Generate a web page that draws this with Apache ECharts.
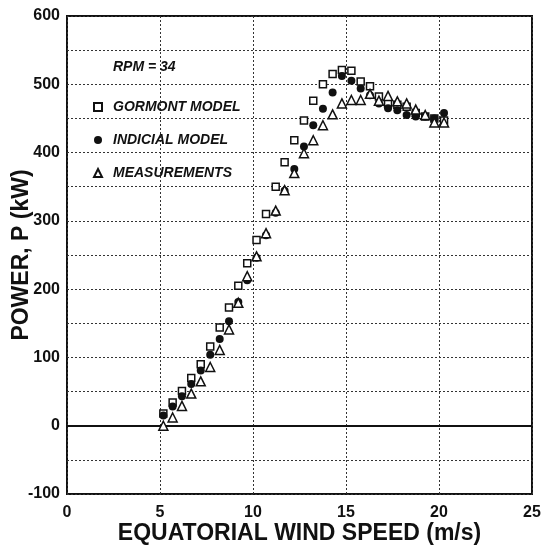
<!DOCTYPE html>
<html>
<head>
<meta charset="utf-8">
<script src="https://cdn.jsdelivr.net/npm/echarts@6/dist/echarts.min.js"></script>
<style>
html,body{margin:0;padding:0;background:#fff;}
#chart{width:542px;height:551px;}
</style>
</head>
<body>
<div id="chart"></div>
<script>
const windSpeed = [5.18,5.68,6.18,6.68,7.19,7.7,8.21,8.71,9.21,9.69,10.19,10.7,11.22,11.7,12.22,12.74,13.24,13.76,14.28,14.78,15.29,15.79,16.29,16.77,17.26,17.76,18.26,18.75,19.26,19.75,20.27];
const gormontModel = [18,34,51,70,90,116,144,173,205,238,272,310,350,386,418,447,476,500,515,521,520,504,497,482,472,470,467,458,453,450,447];
const indicialModel = [15,28,43,61,81,104,127,153,181,213,246,279,312,344,376,409,440,464,488,512,505,494,484,472,465,462,455,453,453,450,458];
const measurements = [0,12,29,47,65,86,111,141,180,219,248,282,315,345,370,399,418,440,456,472,477,477,486,476,483,475,472,463,455,444,444];
const seriesNames = ['GORMONT MODEL','INDICIAL MODEL','MEASUREMENTS'];
const annotation = 'RPM = 34';

const pairs = (ys) => windSpeed.map((x, i) => [x, ys[i]]);
const font = 'Liberation Sans, Arial, sans-serif';
const chart = echarts.init(document.getElementById('chart'), null, {renderer: 'canvas'});
const dotted = {color: '#333', width: 1, type: [2, 2]};

chart.setOption({
  backgroundColor: '#fff',
  animation: false,
  title: {
    text: annotation, left: 108, top: 55,
    textStyle: {fontFamily: font, fontSize: 14, fontWeight: 'bold', fontStyle: 'italic', color: '#111'}
  },
  legend: {
    orient: 'vertical', left: 93, top: 99, padding: 0,
    itemWidth: 8, itemHeight: 8, itemGap: 17,
    textStyle: {fontFamily: font, fontSize: 14, fontWeight: 'bold', fontStyle: 'italic', color: '#111', lineHeight: 16, padding: [0, 0, 0, 6]},
    data: seriesNames
  },
  grid: {left: 67, right: 10, top: 16, bottom: 57, containLabel: false, outerBoundsMode: 'none',
    show: true, borderColor: '#111', borderWidth: 2, backgroundColor: 'transparent'},
  xAxis: {
    type: 'value', min: 0, max: 25, interval: 5,
    name: 'EQUATORIAL WIND SPEED (m/s)', nameLocation: 'middle', nameGap: 28, nameMoveOverlap: false,
    nameTextStyle: {fontFamily: font, fontSize: 23, fontWeight: 'bold', color: '#111'},
    axisLine: {show: false, onZero: false},
    axisTick: {show: false},
    axisLabel: {fontFamily: font, fontSize: 16, fontWeight: 'bold', color: '#111', margin: 11},
    splitLine: {show: true, lineStyle: dotted}
  },
  yAxis: {
    type: 'value', min: -100, max: 600, interval: 50,
    name: 'POWER, P (kW)', nameLocation: 'middle', nameGap: 34, nameMoveOverlap: false,
    nameTextStyle: {fontFamily: font, fontSize: 23, fontWeight: 'bold', color: '#111'},
    axisLine: {show: false, onZero: false},
    axisTick: {show: false},
    axisLabel: {fontFamily: font, fontSize: 16, fontWeight: 'bold', color: '#111', margin: 7,
      formatter: (v) => (v % 100 === 0 ? String(v) : '')},
    splitLine: {show: true, lineStyle: dotted}
  },
  series: [
    {
      name: seriesNames[0], type: 'scatter', symbol: 'rect', symbolSize: 7,
      itemStyle: {color: '#fff', borderColor: '#111', borderWidth: 1.5, opacity: 1},
      data: pairs(gormontModel), z: 3,
      markLine: {
        silent: true, symbol: 'none', label: {show: false},
        lineStyle: {color: '#111', width: 2, type: 'solid', opacity: 1},
        data: [{yAxis: 0}]
      }
    },
    {
      name: seriesNames[1], type: 'scatter', symbol: 'circle', symbolSize: 8,
      itemStyle: {color: '#111', borderColor: '#111', borderWidth: 0, opacity: 1},
      data: pairs(indicialModel), z: 4
    },
    {
      name: seriesNames[2], type: 'scatter', symbol: 'triangle', symbolSize: 9,
      itemStyle: {color: '#fff', borderColor: '#111', borderWidth: 1.5, opacity: 1},
      data: pairs(measurements), z: 5
    }
  ]
});
</script>
</body>
</html>
